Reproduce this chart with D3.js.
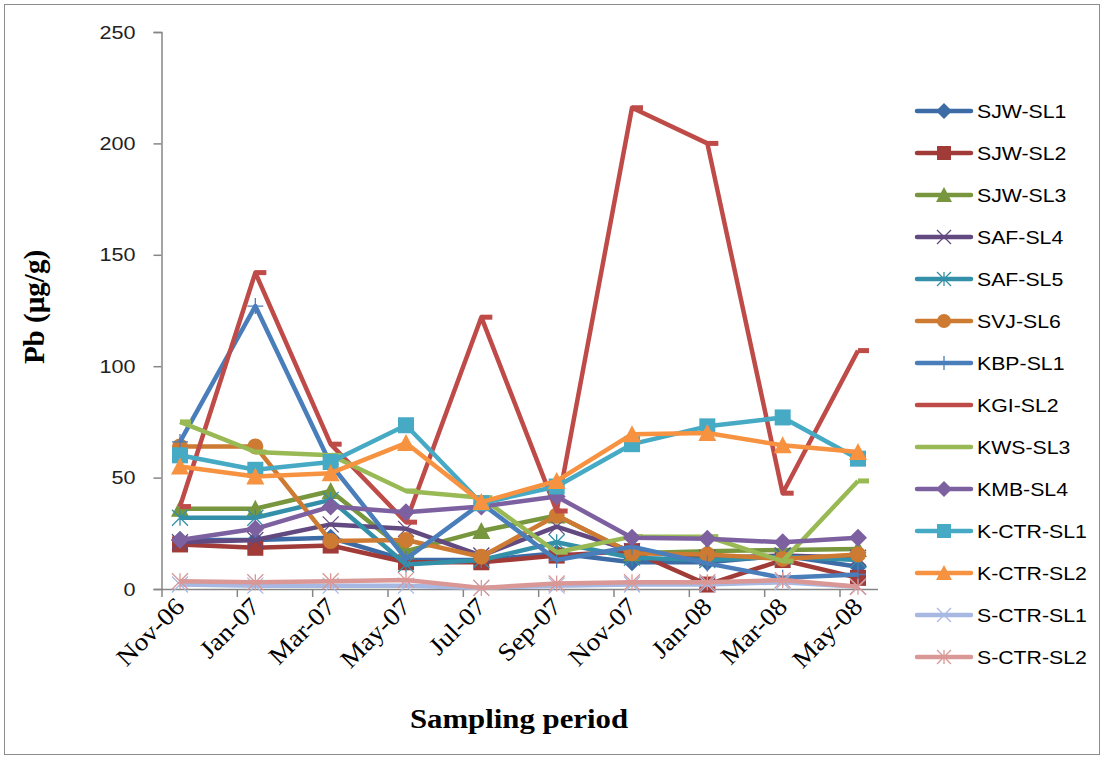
<!DOCTYPE html>
<html><head><meta charset="utf-8">
<script src="https://cdn.jsdelivr.net/npm/d3@7"></script>
<style>body{margin:0;background:#fff;} svg{display:block;}</style>
</head><body>
<svg id="chart" width="1103" height="758"></svg>
<script>
const categories = ["Nov-06","Jan-07","Mar-07","May-07","Jul-07","Sep-07","Nov-07","Jan-08","Mar-08","May-08"];
const yTicks = [0,50,100,150,200,250];
const seriesNames = ["SJW-SL1","SJW-SL2","SJW-SL3","SAF-SL4","SAF-SL5","SVJ-SL6","KBP-SL1","KGI-SL2","KWS-SL3","KMB-SL4","K-CTR-SL1","K-CTR-SL2","S-CTR-SL1","S-CTR-SL2"];
const SJW_SL1 = [22, 22, 23, 13, 13, 16, 12, 12, 15, 10];
const SJW_SL2 = [20, 18.5, 19.5, 12, 12, 15, 17, 2, 13, 5];
const SJW_SL3 = [36, 36, 44, 17, 26, 33, 16, 17, 17.5, 18];
const SAF_SL4 = [21, 22, 29, 27, 15, 28, 17, 14, 15, 14];
const SAF_SL5 = [32, 32, 40, 11, 13, 21, 14, 13, 14.5, 13];
const SVJ_SL6 = [64, 64, 21.5, 22, 14.5, 33, 16, 15.5, 13.5, 15.5];
const KBP_SL1 = [66, 127, 56, 13.5, 38.5, 13, 19, 11.5, 5, 6.5];
const KGI_SL2 = [37, 142, 65, 30, 122, 35, 216, 200, 43, 107];
const KWS_SL3 = [75, 61.5, 60, 44, 41, 16.5, 23.5, 23.5, 12.5, 48.5];
const KMB_SL4 = [22, 27, 37, 34.5, 37, 41.5, 23, 22.5, 21, 23];
const K_CTR_SL1 = [60, 53.5, 57, 73.5, 38.5, 46, 65, 73, 77, 58.5];
const K_CTR_SL2 = [55, 50.5, 52, 65.5, 39, 48.5, 69.5, 70, 64.5, 61.5];
const S_CTR_SL1 = [2, 1.5, 1.5, 1.5, 0.5, 1.5, 2, 2, 3, 1];
const S_CTR_SL2 = [3.5, 3, 3.5, 4, 0.5, 2.5, 3, 3, 4, 1];
const seriesValues = [SJW_SL1,SJW_SL2,SJW_SL3,SAF_SL4,SAF_SL5,SVJ_SL6,KBP_SL1,KGI_SL2,KWS_SL3,KMB_SL4,K_CTR_SL1,K_CTR_SL2,S_CTR_SL1,S_CTR_SL2];

const colors = ["#3D6BA6","#A03B38","#77963D","#624A80","#3390A8","#CD7B33","#4A7EBB","#BE4B48","#98B954","#7D60A0","#46AAC5","#F69240","#A7B9E3","#D99795"];
const markers = ["diamond","square","triangle","x","asterisk","circle","plus","dash","dash","diamond","square","triangle","x","asterisk"];

const svg = d3.select("#chart");
svg.append("rect").attr("x",4.5).attr("y",4.5).attr("width",1095).attr("height",750)
  .attr("fill","#fff").attr("stroke","#8c8c8c").attr("stroke-width",1);

const x = d3.scalePoint().domain(categories).range([180, 858]);
const y = d3.scaleLinear().domain([0,250]).range([589, 32]);
const axisColor = "#868686";

// y axis
const yAxis = d3.axisLeft(y).tickValues(yTicks).tickSize(8);
const gy = svg.append("g").attr("transform","translate(161.5,0)").call(yAxis);
gy.select(".domain").attr("stroke",axisColor).attr("stroke-width",1.5);
gy.selectAll(".tick line").attr("stroke",axisColor).attr("stroke-width",1.5);
gy.selectAll(".tick text").each(function(d){
  d3.select(this).attr("x",null).attr("dy",null)
   .attr("transform",`translate(-26,6) scale(1.2,1)`)
   .attr("text-anchor","end")
   .attr("font-family","Liberation Sans, Arial, sans-serif")
   .attr("font-size",18).attr("fill","#222");
});

// x axis line + ticks
svg.append("line").attr("x1",161).attr("x2",878).attr("y1",589.5).attr("y2",589.5)
  .attr("stroke",axisColor).attr("stroke-width",1.5);
svg.append("g").selectAll("line").data(categories).join("line")
  .attr("x1",d=>x(d)-18).attr("x2",d=>x(d)-18).attr("y1",589).attr("y2",597)
  .attr("stroke",axisColor).attr("stroke-width",1.5);
svg.append("g").selectAll("text").data(categories).join("text")
  .attr("transform",d=>`translate(${x(d)+6},${608}) rotate(-45) scale(1.1,1)`)
  .attr("text-anchor","end")
  .attr("font-family","Liberation Serif, Times New Roman, serif")
  .attr("font-size",25).attr("fill","#000")
  .text(d=>d);

// axis titles
svg.append("text").attr("transform","translate(44,307) rotate(-90)")
  .attr("text-anchor","middle").attr("font-family","Liberation Serif, Times New Roman, serif")
  .attr("font-weight","bold").attr("font-size",29).text("Pb (µg/g)");
svg.append("text").attr("transform","translate(519,728) scale(1.1,1)")
  .attr("text-anchor","middle").attr("font-family","Liberation Serif, Times New Roman, serif")
  .attr("font-weight","bold").attr("font-size",28).text("Sampling period");

function drawMarker(g, type, cx, cy, color, s){
  const h = s/2;
  if(type==="diamond"){
    g.append("path").attr("d",`M${cx},${cy-h-1}L${cx+h+1},${cy}L${cx},${cy+h+1}L${cx-h-1},${cy}Z`).attr("fill",color);
  } else if(type==="square"){
    g.append("rect").attr("x",cx-h).attr("y",cy-h).attr("width",s).attr("height",s).attr("fill",color);
  } else if(type==="triangle"){
    g.append("path").attr("d",`M${cx},${cy-h-1}L${cx+h+1},${cy+h}L${cx-h-1},${cy+h}Z`).attr("fill",color);
  } else if(type==="circle"){
    g.append("circle").attr("cx",cx).attr("cy",cy).attr("r",h).attr("fill",color);
  } else if(type==="x"){
    g.append("path").attr("d",`M${cx-h},${cy-h}L${cx+h},${cy+h}M${cx-h},${cy+h}L${cx+h},${cy-h}`).attr("stroke",color).attr("stroke-width",1.3).attr("fill","none");
  } else if(type==="asterisk"){
    g.append("path").attr("d",`M${cx-h},${cy-h}L${cx+h},${cy+h}M${cx-h},${cy+h}L${cx+h},${cy-h}M${cx},${cy-h}L${cx},${cy+h}`).attr("stroke",color).attr("stroke-width",1.3).attr("fill","none");
  } else if(type==="plus"){
    g.append("path").attr("d",`M${cx-h},${cy}L${cx+h},${cy}M${cx},${cy-h}L${cx},${cy+h}`).attr("stroke",color).attr("stroke-width",1.3).attr("fill","none");
  } else if(type==="dash"){
    g.append("rect").attr("x",cx).attr("y",cy-2.5).attr("width",11).attr("height",5).attr("fill",color);
  }
}

const line = d3.line().x((d,i)=>x(categories[i])).y(d=>y(d));
const plot = svg.append("g");
seriesValues.forEach((vals, si)=>{
  const g = plot.append("g");
  g.append("path").datum(vals).attr("d",line).attr("fill","none")
    .attr("stroke",colors[si]).attr("stroke-width",4.5).attr("stroke-linejoin","round");
  vals.forEach((v,i)=>drawMarker(g, markers[si], x(categories[i]), y(v), colors[si], 16));
});

// legend
const legend = svg.append("g");
seriesNames.forEach((name, i)=>{
  const ly = 111 + i*42;
  const g = legend.append("g");
  g.append("line").attr("x1",917).attr("x2",971).attr("y1",ly).attr("y2",ly)
    .attr("stroke",colors[i]).attr("stroke-width",4.5).attr("stroke-linecap","round");
  if(markers[i]!=="dash") drawMarker(g, markers[i], 944, ly, colors[i], 14);
  g.append("text").attr("transform",`translate(977,${ly+7}) scale(1.12,1)`)
    .attr("font-family","Liberation Sans, Arial, sans-serif").attr("font-size",19)
    .attr("fill","#000").text(name);
});
</script>
</body></html>
